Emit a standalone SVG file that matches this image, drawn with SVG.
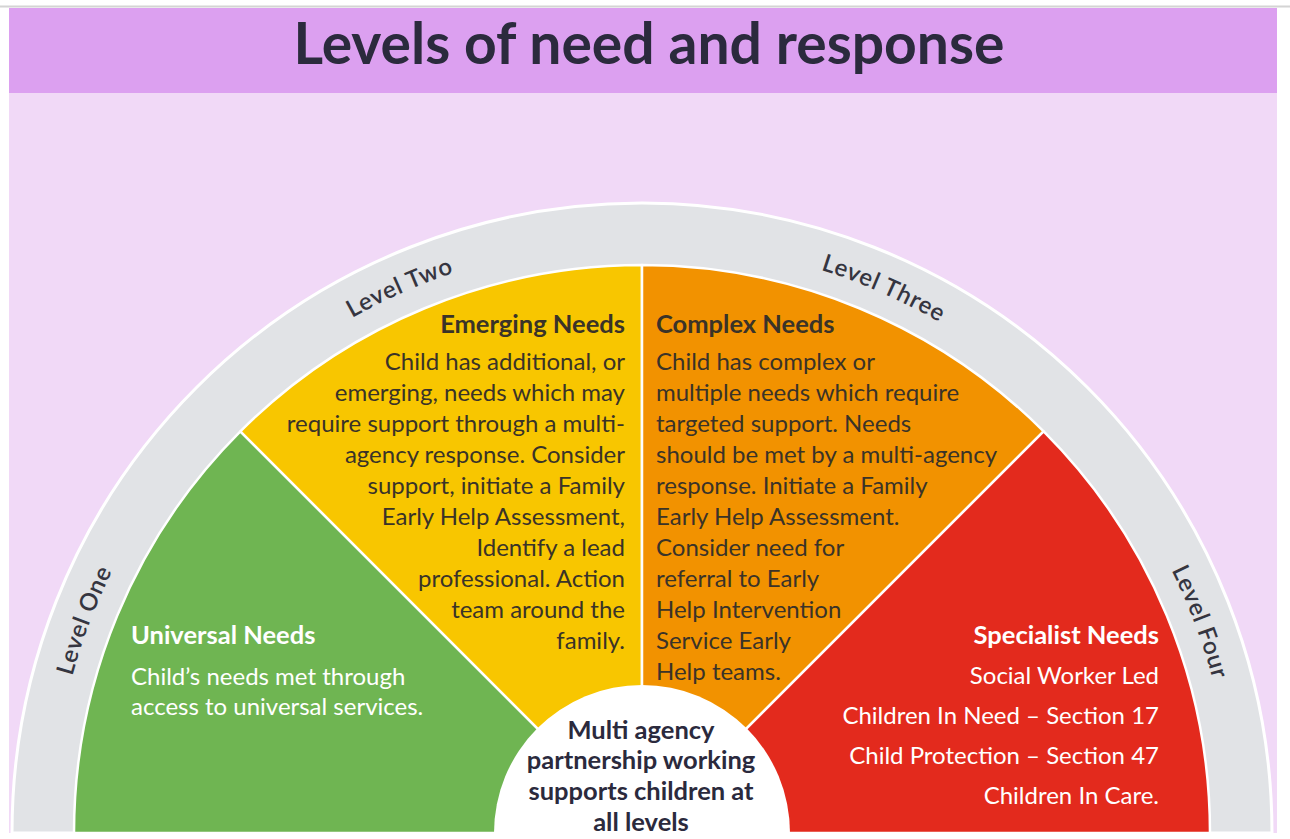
<svg xmlns="http://www.w3.org/2000/svg" width="1290" height="839" viewBox="0 0 1290 839">
<style>
.t{font-family:Lato,"Liberation Sans",sans-serif;font-size:24px;fill:#3a3328}
.b{font-weight:bold;font-size:25.5px}
.w{fill:#ffffff}
.r{text-anchor:end}
.c{text-anchor:middle}
.lv{font-family:Lato,"Liberation Sans",sans-serif;font-size:24px;font-weight:600;fill:#353540;text-anchor:middle;letter-spacing:0.8px}
.sec{stroke:#ffffff;stroke-width:2.5;stroke-linejoin:round}
</style>
<defs>
<path id="arc" d="M 51 833 A 591 591 0 0 1 1233 833"/>
</defs>
<rect x="0" y="0" width="1290" height="839" fill="#ffffff"/>
<rect x="0" y="5.5" width="1290" height="2" fill="#d4d4d4"/>
<rect x="9" y="8" width="1268" height="85" fill="#dca0f0"/>
<rect x="9" y="93" width="1268" height="740" fill="#f1d9f7"/>
<text x="649" y="64" style="font-family:Lato,'Liberation Sans',sans-serif;font-size:57px;font-weight:bold;fill:#2b2a3d;text-anchor:middle">Levels of need and response</text>

<g id="ring">
<path d="M 12 833 A 630 630 0 0 1 1272 833 Z" fill="#e1e3e6" stroke="#ffffff" stroke-width="3"/>
<text class="lv"><textPath href="#arc" startOffset="11.6%">Level One</textPath></text>
<text class="lv"><textPath href="#arc" startOffset="36.7%">Level Two</textPath></text>
<text class="lv"><textPath href="#arc" startOffset="63.3%">Level Three</textPath></text>
<text class="lv"><textPath href="#arc" startOffset="88.5%">Level Four</textPath></text>
</g>

<g id="level-one">
<path class="sec" d="M642,833 L74,833 A568,568 0 0 1 240.36,431.36 Z" fill="#6fb552"/>
<text class="t b w" x="131" y="644">Universal Needs</text>
<text class="t w" x="131" y="685">Child’s needs met through</text>
<text class="t w" x="131" y="715">access to universal services.</text>
</g>

<g id="level-two">
<path class="sec" d="M642,833 L240.36,431.36 A568,568 0 0 1 642,265 Z" fill="#f8c600"/>
<text class="t b r" x="625" y="333">Emerging Needs</text>
<text class="t r" x="625" y="370">Child has additional, or</text>
<text class="t r" x="625" y="401">emerging, needs which may</text>
<text class="t r" x="625" y="432">require support through a multi-</text>
<text class="t r" x="625" y="463">agency response. Consider</text>
<text class="t r" x="625" y="494">support, initiate a Family</text>
<text class="t r" x="625" y="525">Early Help Assessment,</text>
<text class="t r" x="625" y="556">Identify a lead</text>
<text class="t r" x="625" y="587">professional. Action</text>
<text class="t r" x="625" y="618">team around the</text>
<text class="t r" x="625" y="649">family.</text>
</g>

<g id="level-three">
<path class="sec" d="M642,833 L642,265 A568,568 0 0 1 1043.64,431.36 Z" fill="#f29200"/>
<text class="t b" x="656" y="333">Complex Needs</text>
<text class="t" x="656" y="370">Child has complex or</text>
<text class="t" x="656" y="401">multiple needs which require</text>
<text class="t" x="656" y="432">targeted support. Needs</text>
<text class="t" x="656" y="463">should be met by a multi-agency</text>
<text class="t" x="656" y="494">response. Initiate a Family</text>
<text class="t" x="656" y="525">Early Help Assessment.</text>
<text class="t" x="656" y="556">Consider need for</text>
<text class="t" x="656" y="587">referral to Early</text>
<text class="t" x="656" y="618">Help Intervention</text>
<text class="t" x="656" y="649">Service Early</text>
<text class="t" x="656" y="680">Help teams.</text>
</g>

<g id="level-four">
<path class="sec" d="M642,833 L1043.64,431.36 A568,568 0 0 1 1210,833 Z" fill="#e32a1d"/>
<text class="t b w r" x="1159" y="644">Specialist Needs</text>
<text class="t w r" x="1159" y="684">Social Worker Led</text>
<text class="t w r" x="1159" y="724">Children In Need – Section 17</text>
<text class="t w r" x="1159" y="764">Child Protection – Section 47</text>
<text class="t w r" x="1159" y="804">Children In Care.</text>
</g>

<g id="centre">
<circle cx="642" cy="833" r="148" fill="#ffffff"/>
<text class="t b c" x="641" y="739" style="fill:#2b2a3d">Multi agency</text>
<text class="t b c" x="641" y="769" style="fill:#2b2a3d">partnership working</text>
<text class="t b c" x="641" y="800" style="fill:#2b2a3d">supports children at</text>
<text class="t b c" x="641" y="831" style="fill:#2b2a3d">all levels</text>
</g>

<rect x="0" y="833" width="1290" height="6" fill="#ffffff"/>
</svg>
